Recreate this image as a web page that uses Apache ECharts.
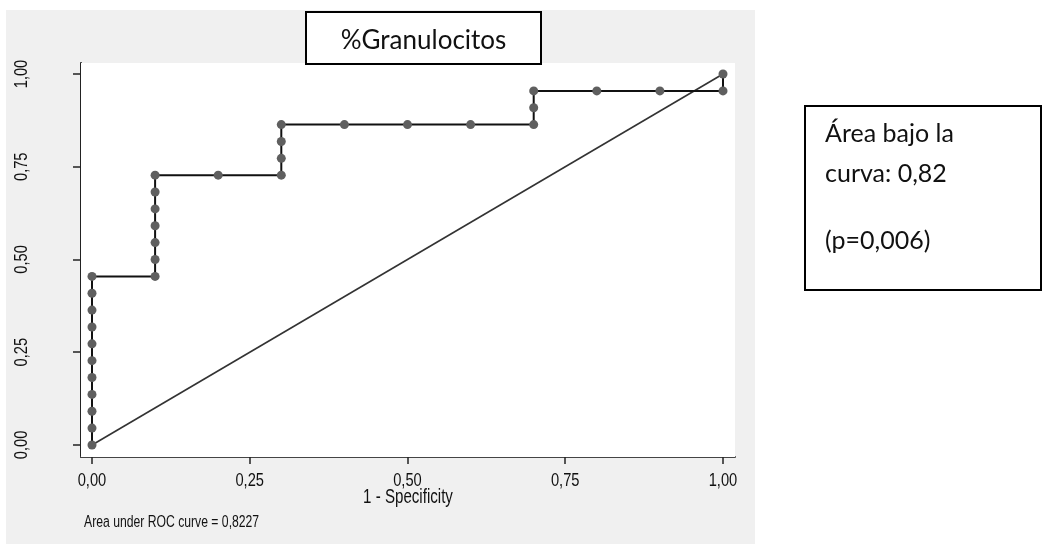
<!DOCTYPE html>
<html>
<head>
<meta charset="utf-8">
<title>%Granulocitos - ROC</title>
<script src="https://cdn.jsdelivr.net/npm/echarts@6/dist/echarts.min.js"></script>
<style>
  html, body { margin: 0; padding: 0; background: #ffffff; }
  #chart { width: 1043px; height: 544px; }
</style>
</head>
<body>
<div id="chart"></div>
<script>
// ROC curve points: 1 - specificity (x) and sensitivity (y)
const fpr = [0, 0, 0, 0, 0, 0, 0, 0, 0, 0, 0,
  0.1, 0.1, 0.1, 0.1, 0.1, 0.1, 0.1,
  0.2,
  0.3, 0.3, 0.3, 0.3,
  0.4, 0.5, 0.6,
  0.7, 0.7, 0.7,
  0.8, 0.9, 1.0, 1.0];
const sensitivity = [0, 0.0455, 0.0909, 0.1364, 0.1818, 0.2273, 0.2727, 0.3182, 0.3636, 0.4091, 0.4545,
  0.4545, 0.5, 0.5455, 0.5909, 0.6364, 0.6818, 0.7273,
  0.7273,
  0.7273, 0.7727, 0.8182, 0.8636,
  0.8636, 0.8636, 0.8636,
  0.8636, 0.9091, 0.9545,
  0.9545, 0.9545, 0.9545, 1];

// chance diagonal
const refX = [0, 1];
const refY = [0, 1];

// tick values and their labels
const tickValues = [0, 0.25, 0.5, 0.75, 1];
const tickLabels = ['0,00', '0,25', '0,50', '0,75', '1,00'];

const titleText = '%Granulocitos';
const xTitle = '1 - Specificity';
const noteText = 'Area under ROC curve = 0,8227';
const boxLines = ['Área bajo la', 'curva: 0,82', '(p=0,006)'];

// axis ranges leave a small margin around the unit square
const xMin = -0.01743, xMax = 1.01902;
const yMin = -0.03235, yMax = 1.02965;

// the graph text is a tall, narrow Arial-like face
const statFamily = "'Liberation Sans', Arial, sans-serif";
const stretch = 1.3;
const boxFont = "Lato, 'Open Sans', sans-serif";

function pairs(xs, ys) { return xs.map((x, i) => [x, ys[i]]); }

const chart = echarts.init(document.getElementById('chart'), null, { renderer: 'canvas' });

const baseGraphic = [
  // grey outer panel of the graph
  { id: 'panel', type: 'rect', z: -10, shape: { x: 6, y: 10, width: 749, height: 534 },
    style: { fill: '#f0f0f0' } },
  // title box
  { id: 'titleBox', type: 'rect', z: 20, shape: { x: 306, y: 12, width: 235, height: 52 },
    style: { fill: '#ffffff', stroke: '#000', lineWidth: 2 } },
  { id: 'titleText', type: 'text', z: 21, x: 423.5, y: 41,
    style: { text: titleText, font: '26px ' + boxFont, fill: '#111', align: 'center', verticalAlign: 'middle' } },
  // side box with the area under the curve
  { id: 'aucBox', type: 'rect', z: 20, shape: { x: 805, y: 106, width: 236, height: 184 },
    style: { fill: '#ffffff', stroke: '#000', lineWidth: 2 } },
  { id: 'auc0', type: 'text', z: 21, x: 825, y: 134,
    style: { text: boxLines[0], font: '25px ' + boxFont, fill: '#111', align: 'left', verticalAlign: 'middle' } },
  { id: 'auc1', type: 'text', z: 21, x: 825, y: 174,
    style: { text: boxLines[1], font: '25px ' + boxFont, fill: '#111', align: 'left', verticalAlign: 'middle' } },
  { id: 'auc2', type: 'text', z: 21, x: 825, y: 241,
    style: { text: boxLines[2], font: '25px ' + boxFont, fill: '#111', align: 'left', verticalAlign: 'middle' } }
];

chart.setOption({
  animation: false,
  backgroundColor: '#ffffff',
  grid: {
    left: 81, top: 63, width: 654, height: 394,
    show: true, backgroundColor: '#ffffff', borderWidth: 0, z: 1
  },
  xAxis: {
    type: 'value',
    min: xMin, max: xMax,
    axisLine: { onZero: false, lineStyle: { color: '#444', width: 2 } },
    axisTick: { show: true, length: 7, customValues: tickValues, lineStyle: { color: '#222', width: 1.5 } },
    axisLabel: { show: false, customValues: tickValues },
    splitLine: { show: true, lineStyle: { color: '#e6e6e6', width: 2 } }
  },
  yAxis: {
    type: 'value',
    min: yMin, max: yMax,
    axisLine: { onZero: false, lineStyle: { color: '#222', width: 2 } },
    axisTick: { show: true, length: 8, customValues: tickValues, lineStyle: { color: '#222', width: 1.5 } },
    axisLabel: { show: false, customValues: tickValues },
    splitLine: { show: true, lineStyle: { color: '#e6e6e6', width: 2 } }
  },
  series: [
    {
      name: 'Referencia',
      type: 'line',
      data: pairs(refX, refY),
      showSymbol: false,
      lineStyle: { color: '#333', width: 1.6 },
      z: 2
    },
    {
      name: 'ROC',
      type: 'line',
      data: pairs(fpr, sensitivity),
      symbol: 'circle',
      symbolSize: 9,
      showAllSymbol: true,
      itemStyle: { color: '#5f5f5f' },
      lineStyle: { color: '#111', width: 2 },
      z: 3
    }
  ],
  graphic: baseGraphic
});

// Axis labels and notes in the stretched face, placed through the axis scales
const xPix = v => chart.convertToPixel({ xAxisIndex: 0 }, v);
const yPix = v => chart.convertToPixel({ yAxisIndex: 0 }, v);
const plotLeft = xPix(xMin), plotRight = xPix(xMax), plotBottom = yPix(yMin);

const statText = (id, text, size, x, y, align, rotation) => ({
  id: id, type: 'text', z: 21, x: x, y: y, scaleY: stretch, rotation: rotation || 0,
  style: { text: text, font: size + 'px ' + statFamily, fill: '#111', align: align, verticalAlign: 'middle' }
});

const labelGraphic = [];
tickValues.forEach((v, i) => {
  labelGraphic.push(statText('xl' + i, tickLabels[i], 14.7, xPix(v), plotBottom + 24, 'center'));
  labelGraphic.push(statText('yl' + i, tickLabels[i], 14.7, plotLeft - 59.5, yPix(v), 'center', Math.PI / 2));
});
labelGraphic.push(statText('xTitle', xTitle, 15.1, (plotLeft + plotRight) / 2, plotBottom + 40.5, 'center'));
labelGraphic.push(statText('note', noteText, 12.2, 84, 523, 'left'));

chart.setOption({ graphic: baseGraphic.concat(labelGraphic) });
</script>
</body>
</html>
